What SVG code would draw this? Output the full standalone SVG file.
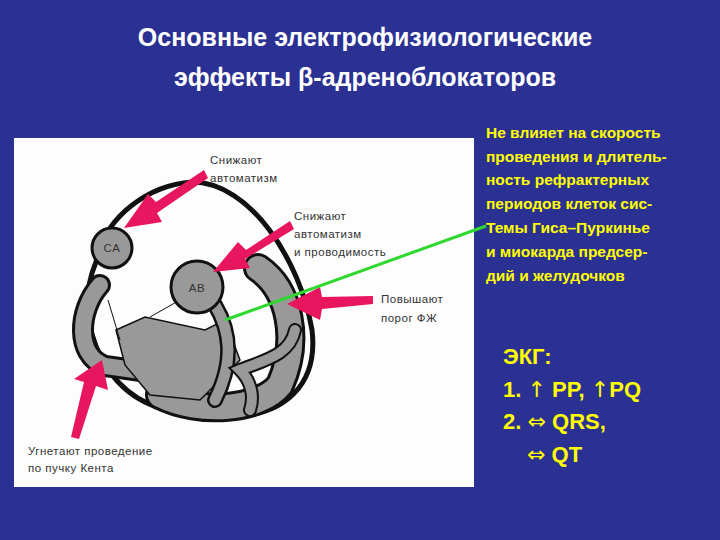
<svg xmlns="http://www.w3.org/2000/svg" width="720" height="540" viewBox="0 0 720 540">
<style>
.t{font-family:"Liberation Sans",Arial,sans-serif;font-weight:bold}
.ar{font-family:"DejaVu Sans",sans-serif;font-weight:normal}
.lab{font-family:"Liberation Sans",Arial,sans-serif;font-size:11.5px;fill:#333;letter-spacing:0.5px}
.y{fill:#ffff00}
.bk{fill:none;stroke:#111;stroke-linecap:round}
.gr{fill:none;stroke:#999;stroke-linecap:round}
.pink{fill:#e8155f}
</style>
<rect width="720" height="540" fill="#2b3192"/>
<text class="t" x="365" y="46" font-size="25" fill="#fff" text-anchor="middle">Основные электрофизиологические</text>
<text class="t" x="365" y="86" font-size="25" fill="#fff" text-anchor="middle">эффекты β-адреноблокаторов</text>
<g id="picture">
<rect x="14" y="138" width="460" height="349" fill="#fdfdfd"/>
<path d="M96,262 C105,215 150,185 192,182 C250,182 300,260 312,330 C318,380 290,420 217,417 C160,415 130,400 110,372 C88,340 80,300 96,262Z" fill="none" stroke="#111" stroke-width="5"/>
<g>
<path class="bk" stroke-width="22" d="M100,285 C78,310 75,355 105,366 L148,372"/>
<path class="gr" stroke-width="16" d="M100,285 C78,310 75,355 105,366 L148,372"/>
<path class="bk" stroke-width="30" d="M258,268 C290,290 300,340 280,385 C260,410 200,415 160,395"/>
<path class="gr" stroke-width="24" d="M258,268 C290,290 300,340 280,385 C260,410 200,415 160,395"/>
<path d="M116,330 L145,317 L205,330 L225,320 L240,360 L200,400 L150,395 L125,365Z" fill="#999" stroke="#111" stroke-width="1.5"/>
<path class="bk" stroke-width="16" d="M215,305 C230,330 235,360 215,400"/>
<path class="gr" stroke-width="11" d="M215,305 C230,330 235,360 215,400"/>
<path class="bk" stroke-width="14" d="M295,330 C290,355 265,360 240,370 C250,380 255,395 250,410"/>
<path class="gr" stroke-width="10" d="M295,330 C290,355 265,360 240,370 C250,380 255,395 250,410"/>
<line x1="150" y1="317" x2="180" y2="300" stroke="#111" stroke-width="1"/>
<line x1="108" y1="300" x2="120" y2="340" stroke="#111" stroke-width="1"/>
</g>
<g id="CA"><circle cx="112" cy="248" r="20" fill="#999" stroke="#111" stroke-width="3"/><text class="lab" x="112" y="252" text-anchor="middle" fill="#111">CA</text></g>
<g id="AB"><circle cx="197" cy="287" r="26" fill="#999" stroke="#111" stroke-width="3"/><text class="lab" x="197" y="292" text-anchor="middle" fill="#111">AB</text></g>
<g id="arrows">
<polygon class="pink" points="204,170 156,202 148,194 124,228 162,222 157,213 208,178"/>
<polygon class="pink" points="290,221 246,250 238,242 213,272 250,268 245,259 294,229"/>
<polygon class="pink" points="373,296 322,297 320,287 287,304 320,320 322,309 373,304"/>
<polygon class="pink" points="71,437 84,382 74,379 102,360 108,390 96,386 79,439"/>
</g>
<text class="lab" x="210" y="164">Снижают</text>
<text class="lab" x="210" y="182">автоматизм</text>
<text class="lab" x="294" y="220">Снижают</text>
<text class="lab" x="294" y="238">автоматизм</text>
<text class="lab" x="294" y="256">и проводимость</text>
<text class="lab" x="381" y="303">Повышают</text>
<text class="lab" x="381" y="322">порог ФЖ</text>
<text class="lab" x="28" y="455">Угнетают проведение</text>
<text class="lab" x="28" y="472">по пучку Кента</text>
</g>
<g id="connectors">
<line x1="486" y1="226" x2="225" y2="320" stroke="#2ed82e" stroke-width="3"/>
</g>
<g id="text" class="t y" font-size="15.5">
<text x="486" y="138">Не  влияет на скорость</text>
<text x="486" y="162">проведения и длитель-</text>
<text x="486" y="185">ность рефрактерных</text>
<text x="486" y="209">периодов   клеток сис-</text>
<text x="486" y="233">Темы Гиса–Пуркинье</text>
<text x="486" y="257">и миокарда предсер-</text>
<text x="486" y="281">дий и желудочков</text>
</g>
<g class="t y" font-size="22">
<text x="503" y="364">ЭКГ:</text>
<text x="503" y="397">1. <tspan class="ar">↑</tspan> PP, <tspan class="ar">↑</tspan>PQ</text>
<text x="503" y="429">2. <tspan class="ar">⇔</tspan> QRS,</text>
<text x="527" y="462"><tspan class="ar">⇔</tspan> QT</text>
</g>
</svg>
